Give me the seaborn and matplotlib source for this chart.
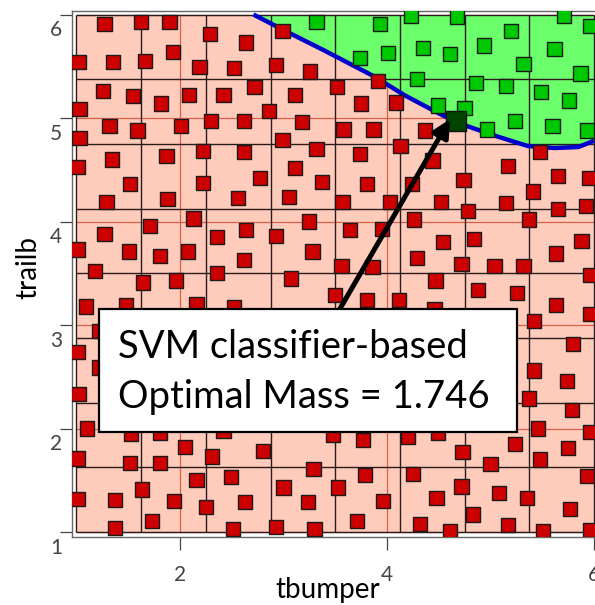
import numpy as np
import pandas as pd
import matplotlib
matplotlib.use("Agg")
import matplotlib.pyplot as plt
import seaborn as sns
from matplotlib.patches import Rectangle
from matplotlib.transforms import ScaledTranslation

# ---------------- data ----------------
fail_x = [1.27, 1.62, 1.90, 2.29, 2.64, 2.99, 1.02, 1.35, 1.66, 1.93, 2.19, 2.52, 2.93,
          1.26, 1.55, 1.82, 2.09, 2.42, 2.72, 3.11, 1.03, 2.86, 1.32, 1.59, 2.01, 2.30,
          2.62, 3.18, 1.03, 2.99, 1.34, 1.87, 2.22, 2.62, 1.01, 3.11, 1.52, 2.22, 2.77,
          1.29, 1.88, 2.56, 3.05, 2.13, 1.71, 1.27, 2.36, 2.64, 2.93, 1.01, 1.51, 1.81,
          2.08, 2.62, 1.18, 1.64, 1.96, 2.36, 3.07,
          3.26, 3.52, 3.91, 3.75, 4.09, 3.58, 3.87, 4.37, 3.32, 3.74, 4.13, 4.44, 5.48,
          3.37, 3.81, 4.24, 4.74, 5.17, 5.65, 5.95, 5.41, 3.57, 4.03, 4.52, 5.15, 5.65,
          5.92, 3.25, 3.64, 3.95, 4.26, 4.78, 5.37, 3.28, 4.54, 4.84, 5.88, 3.56, 3.86,
          4.29, 4.72, 5.04, 5.32, 5.63, 4.47, 4.88, 5.26, 5.96, 3.50, 3.81, 4.12,
          5.63, 5.96, 5.42, 4.46, 5.80, 5.42, 5.74, 5.37, 5.79, 5.46, 5.96, 3.48, 3.77,
          4.20, 4.49, 5.24, 5.75, 4.73, 5.00, 5.48, 3.29, 3.79, 4.25, 5.93, 3.53, 4.72,
          5.08, 5.35, 3.24, 3.96, 4.48, 5.77, 4.83, 3.71, 4.32, 5.17, 3.30, 4.61, 5.51, 5.96,
          1.09, 1.48, 2.16, 2.52, 1.22, 1.01, 1.22, 1.02, 1.10, 1.53, 1.81, 2.42, 2.05,
          2.31, 2.80, 1.01, 1.52, 1.81, 2.16, 2.49, 3.00, 1.63, 1.01, 1.37, 1.94, 2.25,
          2.63, 1.73, 1.37, 2.51, 2.93]
fail_y = [5.91, 5.93, 5.93, 5.81, 5.73, 5.84, 5.54, 5.54, 5.55, 5.64, 5.49, 5.48, 5.51,
          5.26, 5.21, 5.14, 5.22, 5.22, 5.30, 5.22, 5.09, 5.07, 4.92, 4.88, 4.92, 4.97,
          4.97, 4.96, 4.81, 4.79, 4.60, 4.63, 4.68, 4.67, 4.53, 4.52, 4.36, 4.37, 4.42,
          4.19, 4.22, 4.23, 4.24, 4.03, 3.96, 3.88, 3.85, 3.92, 3.86, 3.73, 3.71, 3.67,
          3.71, 3.63, 3.52, 3.41, 3.43, 3.50, 3.45,
          5.45, 5.30, 5.36, 5.14, 5.15, 4.89, 4.89, 4.88, 4.70, 4.65, 4.73, 4.59, 4.67,
          4.38, 4.36, 4.36, 4.40, 4.54, 4.44, 4.42, 4.29, 4.19, 4.19, 4.19, 4.18, 4.12,
          4.15, 4.00, 3.92, 3.93, 4.02, 4.10, 4.02, 3.71, 3.80, 3.83, 3.81, 3.57, 3.56,
          3.65, 3.59, 3.57, 3.57, 3.69, 3.43, 3.34, 3.31, 3.48, 3.29, 3.24, 3.24,
          3.19, 3.11, 3.04, 3.15, 2.82, 2.56, 2.46, 2.29, 2.18, 2.00, 1.97, 1.94, 1.89,
          1.92, 1.96, 1.85, 1.81, 1.77, 1.66, 1.70, 1.61, 1.55, 1.56, 1.54, 1.43, 1.44,
          1.38, 1.33, 1.29, 1.30, 1.33, 1.22, 1.17, 1.11, 1.08, 1.07, 1.03, 1.01, 1.01, 1.02,
          3.18, 3.19, 3.20, 3.17, 2.94, 2.74, 2.59, 2.33, 2.00, 1.95, 1.96, 1.98, 1.82,
          1.73, 1.78, 1.71, 1.67, 1.67, 1.50, 1.53, 1.43, 1.41, 1.32, 1.31, 1.30, 1.24,
          1.29, 1.11, 1.04, 1.03, 1.05]

pass_x = [3.32, 3.93, 4.23, 4.68, 5.71, 5.96, 5.20, 4.35, 4.61, 4.94, 5.62, 4.01, 3.74,
          5.32, 5.87, 4.29, 4.86, 5.15, 5.49, 5.76, 4.49, 4.75, 5.24, 5.60, 5.93, 4.97]
pass_y = [5.93, 5.91, 5.99, 5.98, 5.99, 5.89, 5.84, 5.68, 5.62, 5.70, 5.67, 5.63, 5.58,
          5.52, 5.43, 5.38, 5.34, 5.31, 5.25, 5.17, 5.12, 5.10, 4.97, 4.92, 4.88, 4.89]

opt_x = [4.67]
opt_y = [4.97]

boundary_x = [2.71, 3.04, 3.38, 3.88, 4.17, 4.53, 4.78, 5.04, 5.36, 5.62, 5.85, 6.00]
boundary_y = [6.00, 5.83, 5.66, 5.40, 5.22, 5.03, 4.92, 4.83, 4.73, 4.71, 4.72, 4.78]

x_ticks = [2, 4, 6]
y_ticks = [1, 2, 3, 4, 5, 6]
x_label = "tbumper"
y_label = "trailb"
note_lines = ["SVM classifier-based", "Optimal Mass = 1.746"]

# ---------------- styling ----------------
plt.rcParams["font.family"] = ["Lato", "DejaVu Sans"]

SALMON = "#FFCCBC"
GREEN_FILL = "#6CFF6C"
RED_PT = "#CC0000"
GREEN_PT = "#00C800"
OPT_PT = "#004400"

fig = plt.figure(figsize=(5.95, 6.05), dpi=100)
ax = fig.add_axes([72 / 595, 68 / 605, 527 / 595, 526 / 605])
ax.set_xlim(0.957, 6.049)
ax.set_ylim(0.952, 6.034)

lo, hi = 1.0, 6.0
ax.add_patch(Rectangle((lo, lo), hi - lo, hi - lo, facecolor=SALMON, edgecolor="none", zorder=0.5))

for xv in x_ticks:
    if lo < xv < hi:
        ax.vlines(xv, lo, hi, color="#D8604A", lw=0.9, zorder=1)
for yv in y_ticks:
    ax.hlines(yv, lo, hi, color="#D8604A", lw=0.9, zorder=1)

ax.fill_between(boundary_x, boundary_y, hi, color=GREEN_FILL, lw=0, zorder=1.5)

cells = np.linspace(lo, hi, 9)
ax.vlines(cells, lo, hi, color="#2b1a1a", lw=1.0, zorder=2)
ax.hlines(cells, lo, hi, color="#2b1a1a", lw=1.0, zorder=2)

ax.plot(boundary_x, boundary_y, color="#0000CC", lw=3.2, zorder=3, solid_capstyle="butt")

df = pd.DataFrame({
    "x": fail_x + pass_x,
    "y": fail_y + pass_y,
    "cls": ["fail"] * len(fail_x) + ["pass"] * len(pass_x),
})
sns.scatterplot(data=df, x="x", y="y", hue="cls",
                palette={"fail": RED_PT, "pass": GREEN_PT},
                marker="s", s=105, edgecolor="#1a1a1a", linewidth=1.0,
                legend=False, ax=ax, zorder=4)
sns.scatterplot(x=opt_x, y=opt_y, marker="s", s=210, color=OPT_PT,
                edgecolor="#101010", linewidth=1.0, legend=False, ax=ax, zorder=4.5)

ax.annotate("", xy=(4.61, 4.99), xytext=(3.35, 2.82),
            arrowprops=dict(arrowstyle="-|>", color="black", lw=3.6,
                            mutation_scale=26, shrinkA=0, shrinkB=0),
            zorder=6)
ax.add_patch(Rectangle((0.0512, 0.1996), 0.7932, 0.2339, transform=ax.transAxes,
                       facecolor="white", edgecolor="black", lw=1.6, zorder=7))
ax.text(0.0873, 0.340, note_lines[0], transform=ax.transAxes, fontsize=27.5,
        ha="left", va="baseline", color="black", zorder=8)
ax.text(0.0873, 0.245, note_lines[1], transform=ax.transAxes, fontsize=27.5,
        ha="left", va="baseline", color="black", zorder=8)

ax.set_xlabel("")
ax.set_ylabel("")
for sp in ax.spines.values():
    sp.set_color("#666666")
    sp.set_linewidth(1.0)

ax.set_xticks(x_ticks)
ax.set_xticklabels([str(t) for t in x_ticks])
ax.tick_params(axis="x", direction="out", length=9.4, width=0.9, color="#444444",
               pad=11, labelsize=15, labelcolor="#444444")
ax.set_yticks(y_ticks)
ax.set_yticklabels([])
ax.tick_params(axis="y", direction="out", length=8.6, width=0.9, color="#444444")
ylab_tr = ax.get_yaxis_transform() + ScaledTranslation(0, -0.155, fig.dpi_scale_trans)
for t in y_ticks:
    ax.text(-0.019, t, str(t), transform=ylab_tr, ha="right", va="center",
            fontsize=15, color="#444444", clip_on=False)

fig.text(328 / 595, 1 - 598 / 605, x_label, ha="center", va="baseline", fontsize=20)
fig.text(28 / 595, 1 - 268 / 605, y_label, ha="center", va="center", rotation=90, fontsize=20)

fig.savefig("out.png", dpi=100)
